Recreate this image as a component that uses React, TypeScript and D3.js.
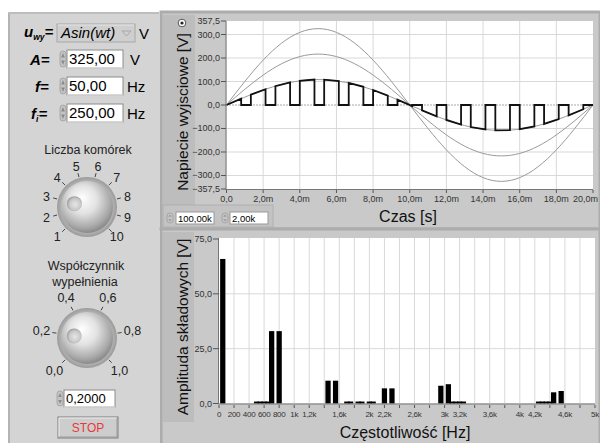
import React from 'react';
import * as d3 from 'd3';

// time samples [ms] and the three reference sines
const sampleMs = [0, 1, 2, 3, 4, 5, 6, 7, 8, 9, 10, 11, 12, 13, 14, 15, 16, 17, 18, 19, 20];
const sineFull = [0, 100.4, 191.0, 262.9, 309.1, 325.0, 309.1, 262.9, 191.0, 100.4, 0, -100.4, -191.0, -262.9, -309.1, -325.0, -309.1, -262.9, -191.0, -100.4, 0];
const sineTwoThirds = [0, 67.0, 127.4, 175.3, 206.1, 216.7, 206.1, 175.3, 127.4, 67.0, 0, -67.0, -127.4, -175.3, -206.1, -216.7, -206.1, -175.3, -127.4, -67.0, 0];
const sineThird = [0, 33.5, 63.7, 87.6, 103.0, 108.3, 103.0, 87.6, 63.7, 33.5, 0, -33.5, -63.7, -87.6, -103.0, -108.3, -103.0, -87.6, -63.7, -33.5, 0];

// output pulses (start/end in ms, value at start/end in V)
const pulseStart = [0, 1.33, 2.67, 4.0, 5.33, 6.67, 8.0, 9.33, 10.67, 12.0, 13.33, 14.67, 16.0, 17.33, 18.67];
const pulseEnd = [0.8, 2.13, 3.47, 4.8, 6.13, 7.47, 8.8, 10.13, 11.47, 12.8, 14.13, 15.47, 16.8, 18.13, 19.47];
const pulseStartV = [0, 44.1, 80.5, 103.0, 107.7, 93.8, 63.7, 22.5, -22.5, -63.7, -93.8, -107.7, -103.0, -80.5, -44.1];
const pulseEndV = [26.9, 67.3, 96.0, 108.1, 101.5, 77.4, 39.9, -4.5, -48.2, -83.4, -104.3, -107.1, -91.4, -59.9, -18.1];

const voltTicks = [357.5, 300, 200, 100, 0, -100, -200, -300, -357.5];
const voltGrid = [300, 200, 100, -100, -200, -300];
const timeTicks = [0, 2, 4, 6, 8, 10, 12, 14, 16, 18, 20];

// spectrum
const freqs = [50, 500, 550, 600, 650, 700, 800, 1450, 1550, 1700, 1750, 1850, 1900, 2000, 2050, 2200, 2300, 2950, 3050, 3100, 3150, 3200, 3250, 4250, 4300, 4350, 4400, 4450, 4550];
const amps = [65.9, 0.9, 0.9, 0.9, 0.9, 33.0, 33.0, 10.4, 10.4, 0.9, 0.9, 0.9, 0.9, 0.9, 0.9, 6.9, 6.9, 8.1, 8.8, 0.9, 0.9, 0.9, 0.9, 0.9, 0.9, 0.9, 0.9, 5.1, 5.7];
const ampTicks = [75, 50, 25, 0];
const freqTickLabels = ['0', '200', '400', '600', '800', '1k', '1,2k', '', '1,6k', '', '2k', '2,2k', '', '2,6k', '', '3k', '3,2k', '', '3,6k', '', '4k', '4,2k', '', '4,6k', '', '5k'];

const cellLabels = ['1', '2', '3', '4', '5', '6', '7', '8', '9', '10'];
const dutyLabels = ['0,0', '0,2', '0,4', '0,6', '0,8', '1,0'];

const FONT = '"Liberation Sans", Arial, sans-serif';
const comma = (v: number) => d3.format('.1f')(v).replace('.', ',');

const Spinner: React.FC<{ x: number; y: number; h: number }> = ({ x, y, h }) => (
  <g>
    <rect x={x} y={y + 1} width={6} height={h - 2} rx={3} fill="#c4c4c4" stroke="#9a9a9a" strokeWidth={0.7} />
    <path d={`M${x + 1.2},${y + h / 2 - 1.5} L${x + 3},${y + 3} L${x + 4.8},${y + h / 2 - 1.5} Z`} fill="#8a8a8a" />
    <path d={`M${x + 1.2},${y + h / 2 + 1.5} L${x + 3},${y + h - 3} L${x + 4.8},${y + h / 2 + 1.5} Z`} fill="#8a8a8a" />
  </g>
);

const NumBox: React.FC<{ x: number; y: number; w: number; h: number; text: string; size?: number }> = ({ x, y, w, h, text, size = 15 }) => (
  <g>
    <rect x={x} y={y} width={w} height={h} fill="#fff" stroke="#8c8c8c" strokeWidth={1} />
    <line x1={x} y1={y + h} x2={x + w} y2={y + h} stroke="#e8e8e8" />
    <text x={x + 2} y={y + h / 2 + size * 0.36} fontSize={size} fontFamily={FONT} fill="#000">{text}</text>
  </g>
);

const Knob: React.FC<{ cx: number; cy: number; labels: string[]; value: number; id: string; labelR: number }> = ({ cx, cy, labels, value, id, labelR }) => {
  const ang = d3.scaleLinear().domain([0, labels.length - 1]).range([-135, 135]);
  const pos = (a: number, r: number) => {
    const t = (a * Math.PI) / 180;
    return [cx + r * Math.sin(t), cy - r * Math.cos(t)];
  };
  const [dx, dy] = pos(ang(value), 13);
  return (
    <g>
      <defs>
        <radialGradient id={`${id}-ring`} cx="50%" cy="50%" r="50%">
          <stop offset="80%" stopColor="#bdbdbd" />
          <stop offset="100%" stopColor="#9a9a9a" />
        </radialGradient>
        <radialGradient id={`${id}-ball`} cx="45%" cy="40%" r="60%" fx="40%" fy="32%">
          <stop offset="0%" stopColor="#ffffff" />
          <stop offset="45%" stopColor="#e2e2e2" />
          <stop offset="85%" stopColor="#a8a8a8" />
          <stop offset="100%" stopColor="#8a8a8a" />
        </radialGradient>
        <radialGradient id={`${id}-dimple`} cx="55%" cy="55%" r="55%">
          <stop offset="0%" stopColor="#e6e6e6" />
          <stop offset="70%" stopColor="#c8c8c8" />
          <stop offset="100%" stopColor="#9c9c9c" />
        </radialGradient>
      </defs>
      <circle cx={cx} cy={cy} r={30} fill={`url(#${id}-ring)`} />
      <circle cx={cx} cy={cy} r={26} fill={`url(#${id}-ball)`} />
      <circle cx={dx} cy={dy} r={7.5} fill={`url(#${id}-dimple)`} />
      {labels.map((l, i) => {
        const [x1, y1] = pos(ang(i), 31);
        const [x2, y2] = pos(ang(i), 35);
        const [lx, ly] = pos(ang(i), labelR);
        return (
          <g key={i}>
            <line x1={x1} y1={y1} x2={x2} y2={y2} stroke="#444" strokeWidth={1} />
            <text x={lx} y={ly + 4.5} textAnchor="middle" fontSize={12.5} fontFamily={FONT} fill="#222">{l}</text>
          </g>
        );
      })}
    </g>
  );
};

const App: React.FC = () => {
  // upper graph
  const xT = d3.scaleLinear().domain([0, 20]).range([226.5, 593]);
  const yT = d3.scaleLinear().domain([-357.5, 357.5]).range([189, 21]);
  const sineLine = (vals: number[]) =>
    d3.line<number>().x((_, i) => xT(sampleMs[i])).y((d) => yT(d)).curve(d3.curveNatural)(vals) || '';
  const pts: [number, number][] = [[0, 0]];
  pulseStart.forEach((s, i) => {
    pts.push([s, 0], [s, pulseStartV[i]], [pulseEnd[i], pulseEndV[i]], [pulseEnd[i], 0]);
  });
  pts.push([20, 0]);
  const outPath = d3.line<[number, number]>().x((d) => xT(d[0])).y((d) => yT(d[1]))(pts) || '';

  // lower graph
  const xF = d3.scaleLinear().domain([0, 5000]).range([219, 595]);
  const yF = d3.scaleLinear().domain([0, 75]).range([403.5, 239]);
  const freqTicks = d3.range(0, 5001, 200);
  const barW = xF(70) - xF(0);

  return (
    <div style={{ position: 'fixed', left: 0, top: 0 }}>
      <svg width={600} height={443} style={{ display: 'block' }}>
        <rect x={0} y={0} width={600} height={443} fill="#fff" />
        {/* left control panel */}
        <rect x={8} y={12} width={151} height={431} fill="#d4d4d4" />
        <line x1={9} y1={12} x2={9} y2={443} stroke="#b4b4b4" strokeWidth={2} />
        <line x1={8} y1={13} x2={159} y2={13} stroke="#bdbdbd" strokeWidth={2} />

        <text x={24} y={37} fontSize={15} fontFamily={FONT} fontStyle="italic" fontWeight="bold">
          u<tspan fontSize={8.5} dy={3}>wy</tspan><tspan dy={-3}>=</tspan>
        </text>
        <rect x={57} y={24} width={78} height={18} fill="#cfcfcf" stroke="#a6a6a6" />
        <line x1={58} y1={25} x2={134} y2={25} stroke="#e6e6e6" />
        <text x={61} y={38} fontSize={15} fontFamily={FONT} fontStyle="italic">Asin(wt)</text>
        <path d="M122,31 L131,31 L126.5,36 Z" fill="none" stroke="#a8a8a8" strokeWidth={1} />
        <text x={139} y={39} fontSize={15} fontFamily={FONT}>V</text>

        <text x={30} y={65} fontSize={15} fontFamily={FONT} fontStyle="italic" fontWeight="bold">A=</text>
        <Spinner x={60} y={50} h={18} />
        <NumBox x={67} y={50} w={56} h={18} text="325,00" />
        <text x={130} y={65} fontSize={15} fontFamily={FONT}>V</text>

        <text x={35} y={92} fontSize={15} fontFamily={FONT} fontStyle="italic" fontWeight="bold">f=</text>
        <Spinner x={60} y={77} h={18} />
        <NumBox x={67} y={77} w={56} h={18} text="50,00" />
        <text x={127} y={92} fontSize={15} fontFamily={FONT}>Hz</text>

        <text x={31} y={119} fontSize={15} fontFamily={FONT} fontStyle="italic" fontWeight="bold">
          f<tspan fontSize={8.5} dy={3}>i</tspan><tspan dy={-3}>=</tspan>
        </text>
        <Spinner x={60} y={104} h={18} />
        <NumBox x={67} y={104} w={56} h={18} text="250,00" />
        <text x={127} y={119} fontSize={15} fontFamily={FONT}>Hz</text>

        <text x={88} y={154} textAnchor="middle" fontSize={12.5} fontFamily={FONT} fill="#222">Liczba komórek</text>
        <Knob cx={87} cy={207} labels={cellLabels} value={2} id="k1" labelR={42} />

        <text x={86} y={270} textAnchor="middle" fontSize={12.5} fontFamily={FONT} fill="#222">Współczynnik</text>
        <text x={85} y={286} textAnchor="middle" fontSize={12.5} fontFamily={FONT} fill="#222">wypełnienia</text>
        <Knob cx={87} cy={338} labels={dutyLabels} value={1} id="k2" labelR={46} />

        <Spinner x={57} y={390} h={17} />
        <NumBox x={64} y={390} w={51} h={17} text="0,2000" size={13} />

        <rect x={58} y={417} width={60} height={21} fill="#cdcdcd" stroke="#7c7c7c" />
        <path d="M59,437 L59,418 L117,418" fill="none" stroke="#eeeeee" />
        <path d="M59,437 L117,437 L117,418" fill="none" stroke="#9a9a9a" />
        <text x={88} y={432} textAnchor="middle" fontSize={12} fontFamily={FONT} fill="#e8393a">STOP</text>

        {/* upper graph frame */}
        <rect x={161} y={12} width={439} height={217} fill="#c9c9c9" />
        <rect x={161} y={12} width={439} height={217} fill="none" stroke="#acacac" strokeWidth={3} />
        <rect x={163} y={15} width={32} height={190} fill="#bdbdbd" />
        <rect x={163} y={205} width={110} height={22} fill="#c3c3c3" stroke="#b0b0b0" />
        <rect x={226.5} y={21} width={366.5} height={168} fill="#fff" />
        {voltGrid.map((v) => (
          <line key={v} x1={226.5} x2={593} y1={yT(v)} y2={yT(v)} stroke="#d9d9d9" />
        ))}
        {timeTicks.slice(1, -1).map((t) => (
          <line key={t} x1={xT(t)} x2={xT(t)} y1={21} y2={189} stroke="#d9d9d9" />
        ))}
        <line x1={226.5} x2={593} y1={yT(0)} y2={yT(0)} stroke="#555" strokeDasharray="1,2" />
        <path d={sineLine(sineFull)} fill="none" stroke="#9a9a9a" strokeWidth={1} />
        <path d={sineLine(sineTwoThirds)} fill="none" stroke="#9a9a9a" strokeWidth={1} />
        <path d={sineLine(sineThird)} fill="none" stroke="#9a9a9a" strokeWidth={1} />
        <path d={outPath} fill="none" stroke="#111" strokeWidth={1.8} strokeLinejoin="miter" />
        <line x1={226} x2={226} y1={21} y2={190} stroke="#777" />
        <line x1={226} x2={593} y1={189.5} y2={189.5} stroke="#777" />
        {voltTicks.map((v) => (
          <g key={v}>
            <line x1={221} x2={226} y1={yT(v)} y2={yT(v)} stroke="#555" />
            <text x={220} y={yT(v) + 3} textAnchor="end" fontSize={9} fontFamily={FONT} fill="#333">{comma(v)}</text>
          </g>
        ))}
        {timeTicks.map((t, i) => (
          <g key={t}>
            <line x1={xT(t)} x2={xT(t)} y1={190} y2={193} stroke="#555" />
            <text
              x={i === timeTicks.length - 1 ? 598 : xT(t)}
              y={202}
              textAnchor={i === timeTicks.length - 1 ? 'end' : 'middle'}
              fontSize={9}
              fontFamily={FONT}
              fill="#333"
            >
              {t === 0 ? '0,0' : `${comma(t)}m`}
            </text>
          </g>
        ))}
        <circle cx={182} cy={23} r={3.8} fill="#fff" stroke="#555" />
        <circle cx={182} cy={23} r={1.6} fill="#222" />
        <text transform="translate(188,112) rotate(-90)" textAnchor="middle" fontSize={15.5} fontFamily={FONT} fill="#111">
          Napiecie wyjsciowe [V]
        </text>
        <text x={408} y={222} textAnchor="middle" fontSize={16} fontFamily={FONT} fill="#111">Czas [s]</text>
        <Spinner x={167} y={212} h={12} />
        <rect x={176} y={212} width={38} height={12} fill="#fff" stroke="#999" />
        <text x={178} y={221.5} fontSize={9.5} fontFamily={FONT}>100,00k</text>
        <Spinner x={222} y={212} h={12} />
        <rect x={230} y={212} width={38} height={12} fill="#fff" stroke="#999" />
        <text x={232} y={221.5} fontSize={9.5} fontFamily={FONT}>2,00k</text>

        {/* lower graph frame */}
        <rect x={161} y={229} width={439} height={214} fill="#c9c9c9" />
        <rect x={161} y={229} width={439} height={216} fill="none" stroke="#acacac" strokeWidth={3} />
        <rect x={163} y={232} width={31} height={190} fill="#bdbdbd" />
        <rect x={219} y={238} width={376} height={165.5} fill="#fff" />
        {[25, 50].map((v) => (
          <line key={v} x1={219} x2={595} y1={yF(v)} y2={yF(v)} stroke="#d9d9d9" />
        ))}
        {freqTicks.slice(1, -1).map((f) => (
          <line key={f} x1={xF(f)} x2={xF(f)} y1={238} y2={403.5} stroke="#d9d9d9" />
        ))}
        {freqs.map((f, i) => (
          <rect key={f} x={xF(f) - barW / 2} y={yF(amps[i])} width={barW} height={yF(0) - yF(amps[i])} fill="#000" />
        ))}
        <line x1={218.5} x2={218.5} y1={238} y2={404} stroke="#777" />
        <line x1={218.5} x2={595} y1={404} y2={404} stroke="#777" />
        {ampTicks.map((v) => (
          <g key={v}>
            <line x1={213} x2={218.5} y1={yF(v)} y2={yF(v)} stroke="#555" />
            <text x={212} y={yF(v) + 3} textAnchor="end" fontSize={9} fontFamily={FONT} fill="#333">{comma(v)}</text>
          </g>
        ))}
        {freqTicks.map((f, i) => (
          <g key={f}>
            <line x1={xF(f)} x2={xF(f)} y1={405} y2={408} stroke="#555" />
            <text x={xF(f)} y={417} textAnchor="middle" fontSize={8} letterSpacing={-0.3} fontFamily={FONT} fill="#333">{freqTickLabels[i]}</text>
          </g>
        ))}
        <text transform="translate(188,327) rotate(-90)" textAnchor="middle" fontSize={15.5} fontFamily={FONT} fill="#111">
          Amplituda składowych [V]
        </text>
        <text x={405} y={438} textAnchor="middle" fontSize={16} fontFamily={FONT} fill="#111">Częstotliwość [Hz]</text>
      </svg>
    </div>
  );
};

export default App;
